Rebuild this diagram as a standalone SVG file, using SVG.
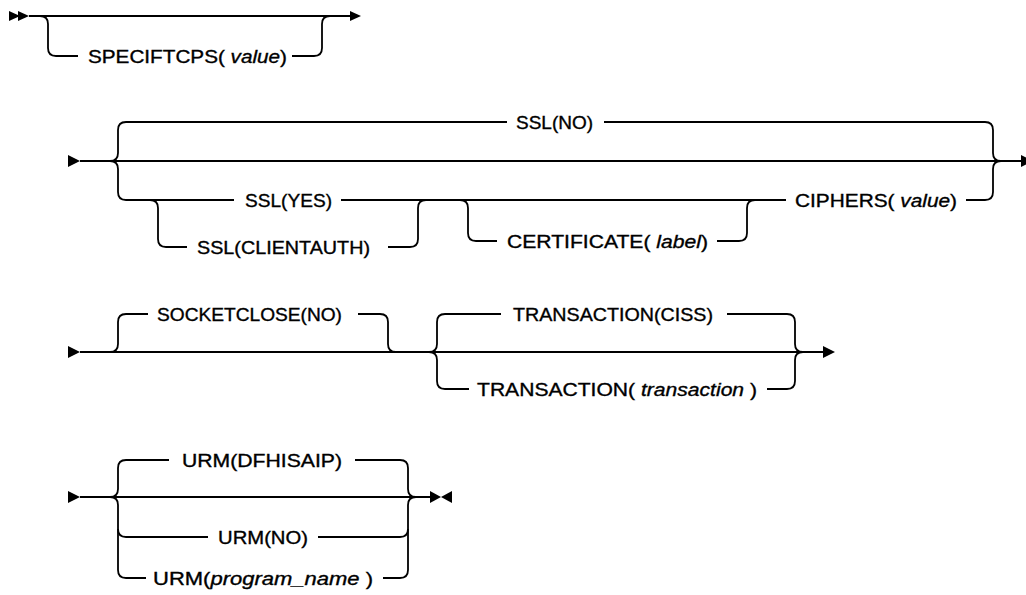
<svg xmlns="http://www.w3.org/2000/svg" width="1026" height="595" viewBox="0 0 1026 595">
<style>
.c{fill:none;stroke:#000;stroke-width:1.8;stroke-linecap:butt}
.a{fill:#000;stroke:none}
text{font-family:"Liberation Sans",Arial,sans-serif;font-size:18px;fill:#000;stroke:#000;stroke-width:0.35}
.i{font-style:italic}
</style>
<rect width="1026" height="595" fill="#fff"/>
<g id="connectors">
<!-- row 1 -->
<path class="c" d="M29,16 H350"/>
<path class="c" d="M40,16 Q48,16 48,24 V48 Q48,56 56,56 H78"/>
<path class="c" d="M292,56 H314 Q322,56 322,48 V24 Q322,16 330,16"/>
<polygon class="a" points="9,11 20,16 9,21"/>
<polygon class="a" points="18,11 29,16 18,21"/>
<polygon class="a" points="350,11 361,16 350,21"/>
<!-- row 2 -->
<polygon class="a" points="68,155 80,161 68,167"/>
<path class="c" d="M80,161 H1021"/>
<path class="c" d="M110,161 Q118,161 118,153 V130 Q118,122 126,122 H507"/>
<path class="c" d="M110,161 Q118,161 118,169 V192 Q118,200 126,200 H234"/>
<path class="c" d="M604,122 H985 Q993,122 993,130 V153 Q993,161 1001,161"/>
<path class="c" d="M966,200 H985 Q993,200 993,192 V169 Q993,161 1001,161"/>
<path class="c" d="M341,200 H786"/>
<path class="c" d="M150,200 Q158,200 158,208 V239 Q158,247 166,247 H187"/>
<path class="c" d="M388,247 H410 Q418,247 418,239 V208 Q418,200 426,200"/>
<path class="c" d="M460,200 Q468,200 468,208 V233 Q468,241 476,241 H497"/>
<path class="c" d="M717,241 H739 Q747,241 747,233 V208 Q747,200 755,200"/>
<polygon class="a" points="1021,155 1033,161 1021,167"/>
<!-- row 3 -->
<polygon class="a" points="68,346 80,352 68,358"/>
<path class="c" d="M80,352 H823"/>
<path class="c" d="M110,352 Q118,352 118,344 V322 Q118,314 126,314 H148"/>
<path class="c" d="M358,314 H380 Q388,314 388,322 V344 Q388,352 396,352"/>
<path class="c" d="M429,352 Q437,352 437,344 V322 Q437,314 445,314 H501"/>
<path class="c" d="M429,352 Q437,352 437,360 V381 Q437,389 445,389 H469"/>
<path class="c" d="M727,314 H787 Q795,314 795,322 V344 Q795,352 803,352"/>
<path class="c" d="M767,389 H787 Q795,389 795,381 V360 Q795,352 803,352"/>
<polygon class="a" points="823,346 835,352 823,358"/>
<!-- row 4 -->
<polygon class="a" points="68,491 80,497 68,503"/>
<path class="c" d="M80,497 H430"/>
<path class="c" d="M110,497 Q118,497 118,489 V468 Q118,460 126,460 H169"/>
<path class="c" d="M110,497 Q118,497 118,505 V570 Q118,578 126,578 H146"/>
<path class="c" d="M118,529 Q118,537 126,537 H208"/>
<path class="c" d="M355,460 H400 Q408,460 408,468 V489 Q408,497 416,497"/>
<path class="c" d="M383,578 H400 Q408,578 408,570 V505 Q408,497 416,497"/>
<path class="c" d="M318,537 H400 Q408,537 408,529"/>
<polygon class="a" points="430,491 441,497 430,503"/>
<polygon class="a" points="452,491 441,497 452,503"/>
</g>
<g id="specifTcps"><text x="88" y="62.5" textLength="199" lengthAdjust="spacingAndGlyphs">SPECIFTCPS( <tspan class="i">value</tspan>)</text></g>
<g id="sslNo"><text x="516" y="128.5" textLength="77" lengthAdjust="spacingAndGlyphs">SSL(NO)</text></g>
<g id="sslYes"><text x="245" y="206.5" textLength="87" lengthAdjust="spacingAndGlyphs">SSL(YES)</text></g>
<g id="sslClientauth"><text x="197" y="253.5" textLength="173" lengthAdjust="spacingAndGlyphs">SSL(CLIENTAUTH)</text></g>
<g id="certificate"><text x="507" y="247.5" textLength="201" lengthAdjust="spacingAndGlyphs">CERTIFICATE( <tspan class="i">label</tspan>)</text></g>
<g id="ciphers"><text x="795" y="206.5" textLength="162" lengthAdjust="spacingAndGlyphs">CIPHERS( <tspan class="i">value</tspan>)</text></g>
<g id="socketclose"><text x="157" y="320.5" textLength="185" lengthAdjust="spacingAndGlyphs">SOCKETCLOSE(NO)</text></g>
<g id="transactionCiss"><text x="513" y="320.5" textLength="200" lengthAdjust="spacingAndGlyphs">TRANSACTION(CISS)</text></g>
<g id="transactionVar"><text x="477" y="395.5" textLength="280" lengthAdjust="spacingAndGlyphs">TRANSACTION( <tspan class="i">transaction</tspan> )</text></g>
<g id="urmDefault"><text x="182" y="466.5" textLength="160" lengthAdjust="spacingAndGlyphs">URM(DFHISAIP)</text></g>
<g id="urmNo"><text x="218" y="543.5" textLength="90" lengthAdjust="spacingAndGlyphs">URM(NO)</text></g>
<g id="urmProgram"><text x="153" y="584.5" textLength="220" lengthAdjust="spacingAndGlyphs">URM(<tspan class="i">program_name</tspan> )</text></g>
</svg>
